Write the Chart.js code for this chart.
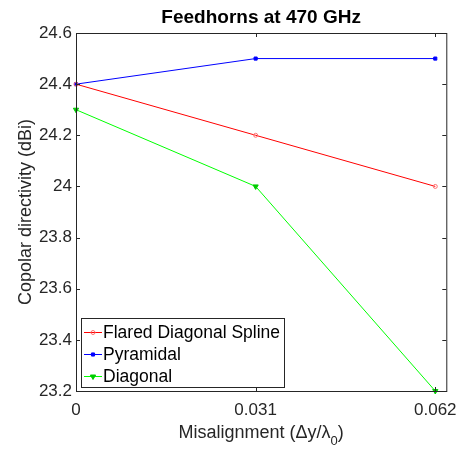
<!DOCTYPE html>
<html>
<head>
<meta charset="UTF-8">
<title>Feedhorns at 470 GHz</title>
<script src="https://cdn.jsdelivr.net/npm/chart.js"></script>
<style>
  body { margin: 0; background: #fff; }
  #wrap { width: 466px; height: 453px; position: relative; }
</style>
</head>
<body>
<div id="wrap"><canvas id="chart" width="466" height="453"></canvas></div>
<script>
const misalignment = [0, 0.031, 0.062];
const xTicks = [0, 0.031, 0.062];
const flaredSpline = [24.4, 24.2, 24.0];
const pyramidal = [24.4, 24.5, 24.5];
const diagonal = [24.3, 24.0, 23.2];
const yTicks = [23.2, 23.4, 23.6, 23.8, 24, 24.2, 24.4, 24.6];

const FONT = 'Liberation Sans, Arial, Helvetica, sans-serif';
const TXT = '#262626';

function pts(ys) { return misalignment.map((x, i) => ({ x: x, y: ys[i] })); }

// frame, inward ticks, title, legend, axis labels (x one has a subscript)
const matlabLook = {
  id: 'matlabLook',
  afterDraw(chart) {
    const c = chart.ctx, a = chart.chartArea;
    const xs = chart.scales.x, ys = chart.scales.y;
    c.save();
    c.strokeStyle = '#262626';
    c.lineWidth = 1;
    c.strokeRect(a.left + 0.5, a.top + 0.5, a.right - a.left, a.bottom - a.top);
    c.beginPath();
    xTicks.forEach(v => {
      const px = Math.round(xs.getPixelForValue(v)) + 0.5;
      c.moveTo(px, a.bottom); c.lineTo(px, a.bottom - 4);
      c.moveTo(px, a.top); c.lineTo(px, a.top + 4);
    });
    yTicks.forEach(v => {
      const py = Math.round(ys.getPixelForValue(v)) + 0.5;
      c.moveTo(a.left, py); c.lineTo(a.left + 4, py);
      c.moveTo(a.right, py); c.lineTo(a.right - 4, py);
    });
    c.stroke();

    // title
    c.fillStyle = '#000';
    c.font = 'bold 19px ' + FONT;
    c.textAlign = 'center';
    c.textBaseline = 'middle';
    c.fillText('Feedhorns at 470 GHz', (a.left + a.right) / 2, 18);

    // y axis label
    c.save();
    c.fillStyle = TXT;
    c.font = '18px ' + FONT;
    c.translate(31, (a.top + a.bottom) / 2);
    c.rotate(-Math.PI / 2);
    c.textAlign = 'center';
    c.textBaseline = 'alphabetic';
    c.fillText('Copolar directivity (dBi)', 0, 0);
    c.restore();

    // x axis label with subscript
    c.fillStyle = TXT;
    const p1 = 'Misalignment (\u0394y/\u03bb', p2 = ')';
    c.font = '18px ' + FONT;
    const w1 = c.measureText(p1).width;
    const w2 = c.measureText(p2).width;
    c.font = '13px ' + FONT;
    const ws = c.measureText('0').width;
    const x0 = (a.left + a.right) / 2 - (w1 + ws + w2) / 2;
    const yb = 438;
    c.textAlign = 'left';
    c.textBaseline = 'alphabetic';
    c.font = '18px ' + FONT;
    c.fillText(p1, x0, yb);
    c.fillText(p2, x0 + w1 + ws, yb);
    c.font = '13px ' + FONT;
    c.fillText('0', x0 + w1, yb + 7);

    // legend
    const lx = 81, ly = 318, lw = 203, lh = 69;
    c.fillStyle = '#fff';
    c.fillRect(lx, ly, lw, lh);
    c.strokeStyle = '#262626';
    c.strokeRect(lx + 0.5, ly + 0.5, lw, lh);
    chart.data.datasets.forEach((ds, i) => {
      const cy = 332 + i * 22;
      c.strokeStyle = ds.borderColor;
      c.lineWidth = 1;
      c.beginPath();
      c.moveTo(lx + 3, cy + 0.5); c.lineTo(lx + 21, cy + 0.5);
      c.stroke();
      const m = chart.getDatasetMeta(i).data[0];
      if (m) {
        const sx = m.x, sy = m.y;
        m.x = lx + 12; m.y = cy + 0.5;
        m.draw(c, a);
        m.x = sx; m.y = sy;
      }
      c.fillStyle = '#000';
      c.font = '17.5px ' + FONT;
      c.textAlign = 'left';
      c.textBaseline = 'middle';
      c.fillText(ds.label, lx + 22, cy + 1);
    });
    c.restore();
  }
};

new Chart(document.getElementById('chart'), {
  type: 'line',
  data: {
    datasets: [
      { label: 'Flared Diagonal Spline', data: pts(flaredSpline), borderColor: '#ff0000', backgroundColor: 'rgba(0,0,0,0)',
        pointStyle: 'circle', pointRadius: 2, pointBorderColor: '#ff7070', pointBorderWidth: 1 },
      { label: 'Pyramidal', data: pts(pyramidal), borderColor: '#0000ff', backgroundColor: '#0000ff',
        pointStyle: 'rect', pointRadius: 2.2, pointBorderColor: '#0000ff', pointBorderWidth: 1 },
      { label: 'Diagonal', data: pts(diagonal), borderColor: '#00ff00', backgroundColor: '#00cc00',
        pointStyle: 'triangle', pointRotation: 180, pointRadius: 3, pointBorderColor: '#00cc00', pointBorderWidth: 1 }
    ]
  },
  options: {
    responsive: false,
    animation: false,
    clip: false,
    layout: { padding: { top: 33, right: 15, left: 0, bottom: 0 } },
    elements: { line: { borderWidth: 1, tension: 0 } },
    plugins: { legend: { display: false }, title: { display: false }, tooltip: { enabled: false } },
    scales: {
      x: {
        type: 'linear', min: 0, max: 0.0639,
        afterBuildTicks: s => { s.ticks = xTicks.map(v => ({ value: v })); },
        afterFit: s => { s.height = 62; },
        grid: { display: false, drawTicks: false },
        border: { display: false },
        ticks: { color: TXT, font: { family: FONT, size: 17 }, padding: 9, maxRotation: 0,
          callback: v => String(v) }
      },
      y: {
        min: 23.2, max: 24.6,
        afterBuildTicks: s => { s.ticks = yTicks.map(v => ({ value: v })); },
        afterFit: s => { s.width = 76; },
        grid: { display: false, drawTicks: false },
        border: { display: false },
        ticks: { color: TXT, font: { family: FONT, size: 17 }, padding: 4,
          callback: v => String(parseFloat(v.toFixed(1))) }
      }
    }
  },
  plugins: [matlabLook]
});
</script>
</body>
</html>
